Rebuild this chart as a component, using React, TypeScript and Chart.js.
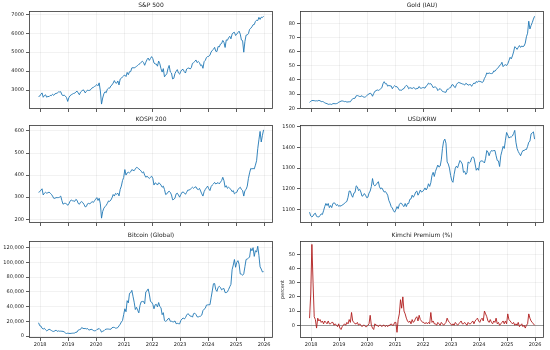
import React, { useEffect, useRef } from 'react';
import { Chart, registerables } from 'chart.js';

Chart.register(...registerables);

// ---------- data: two readings per month (mid, end), Dec 2017 .. Dec 2025 ----------
const startYear = 2017;
const startMonth = 12;
const yearTicks = [2018, 2019, 2020, 2021, 2022, 2023, 2024, 2025, 2026];

const sp500 = [
  2660, 2680,
  2780, 2850, 2620, 2710, 2750, 2620, 2670, 2650, 2720, 2705, 2780, 2720, 2800, 2820, 2840, 2900, 2900, 2915, 2750, 2710, 2730, 2680, 2600, 2400,
  2600, 2700, 2750, 2785, 2820, 2834, 2900, 2945, 2850, 2752, 2890, 2942, 3010, 2980, 2850, 2926, 3000, 2977, 2990, 3038, 3120, 3141, 3190, 3231,
  3290, 3226, 3380, 2954, 2260, 2580, 2800, 2912, 2860, 3044, 3100, 3100, 3220, 3271, 3370, 3500, 3380, 3363, 3480, 3270, 3580, 3622, 3700, 3756,
  3790, 3714, 3930, 3811, 3970, 3973, 4170, 4181, 4170, 4204, 4250, 4298, 4360, 4395, 4470, 4523, 4460, 4308, 4470, 4605, 4690, 4567, 4670, 4766,
  4660, 4430, 4380, 4374, 4260, 4530, 4390, 4132, 3950, 4132, 3700, 3785, 3860, 4130, 4300, 3955, 3900, 3586, 3620, 3872, 3990, 4080, 3900, 3840,
  3990, 4077, 4090, 3970, 3900, 4109, 4150, 4169, 4110, 4180, 4410, 4450, 4510, 4589, 4450, 4508, 4450, 4288, 4330, 4150, 4500, 4568, 4720, 4770,
  4780, 4846, 5010, 5096, 5150, 5254, 5050, 5036, 5300, 5278, 5430, 5460, 5620, 5522, 5250, 5648, 5630, 5762, 5840, 5705, 5950, 6032, 6050, 5882,
  5950, 6041, 6110, 5955, 5640, 5612, 5000, 5569, 5900, 5912, 5980, 6205, 6260, 6339, 6450, 6460, 6620, 6688, 6670, 6840, 6730, 6849, 6830, 6900,
];

const gold = [
  24.2, 24.9,
  25.5, 25.5, 25.4, 25.2, 25.3, 25.2, 25.6, 25.3, 24.7, 24.8, 24.5, 23.9, 23.5, 23.3, 22.8, 22.9, 22.9, 22.7, 23.3, 23.3, 23.2, 23.3, 23.5, 24.4,
  24.6, 25.1, 25.2, 25.0, 24.7, 24.8, 24.4, 24.5, 24.6, 24.6, 25.8, 26.8, 27.0, 27.1, 28.8, 29.0, 28.7, 28.3, 28.4, 28.9, 28.0, 27.8, 28.1, 28.9,
  29.6, 30.2, 30.6, 30.2, 28.5, 30.4, 32.0, 32.4, 33.0, 32.6, 33.1, 33.8, 34.5, 37.4, 38.8, 37.3, 37.4, 35.6, 36.2, 35.8, 35.8, 33.8, 35.2, 36.0,
  35.2, 35.3, 34.2, 32.8, 32.8, 32.7, 33.7, 33.9, 35.3, 36.2, 35.7, 33.8, 34.5, 34.4, 33.9, 34.6, 34.4, 33.4, 34.1, 34.0, 35.4, 34.2, 34.2, 34.6,
  34.6, 34.2, 35.7, 36.3, 37.8, 37.2, 37.4, 36.2, 34.6, 35.0, 35.0, 34.4, 32.5, 33.4, 33.9, 33.0, 31.9, 31.7, 31.4, 31.3, 33.4, 33.5, 34.3, 34.6,
  36.5, 36.7, 35.2, 34.6, 36.8, 37.8, 38.3, 37.9, 37.6, 37.2, 37.0, 36.4, 37.6, 37.2, 36.3, 36.7, 36.8, 35.5, 36.9, 37.9, 37.4, 38.9, 38.3, 39.3,
  38.9, 38.8, 38.2, 38.8, 41.1, 42.6, 45.0, 44.4, 45.0, 44.6, 44.5, 44.7, 46.4, 46.1, 47.2, 48.2, 48.8, 50.3, 50.8, 52.5, 49.4, 50.4, 50.8, 50.2,
  51.4, 53.6, 56.0, 54.9, 57.0, 59.8, 63.5, 62.8, 61.6, 63.0, 64.3, 63.0, 64.0, 63.5, 64.0, 66.0, 70.5, 73.0, 81.5, 76.0, 78.5, 80.5, 83.0, 85.0,
];

const kospi200 = [
  322, 325,
  332, 338, 310, 318, 322, 318, 320, 323, 318, 313, 305, 295, 295, 298, 298, 298, 300, 305, 285, 268, 272, 272, 270, 263,
  270, 282, 287, 284, 283, 281, 290, 286, 272, 268, 277, 280, 275, 267, 256, 258, 270, 272, 270, 275, 280, 276, 284, 291,
  298, 285, 295, 270, 205, 235, 250, 257, 263, 272, 283, 281, 287, 297, 312, 305, 317, 313, 318, 306, 335, 350, 375, 389,
  425, 400, 410, 413, 410, 415, 425, 422, 420, 428, 435, 433, 428, 424, 418, 410, 415, 400, 390, 395, 390, 385, 390, 395,
  385, 355, 365, 362, 355, 365, 362, 355, 345, 350, 335, 312, 315, 323, 327, 322, 310, 288, 290, 296, 315, 318, 310, 300,
  312, 322, 323, 320, 313, 322, 332, 332, 335, 340, 345, 340, 345, 347, 337, 334, 340, 328, 315, 305, 325, 335, 343, 350,
  338, 330, 348, 355, 360, 367, 360, 363, 366, 360, 368, 375, 390, 375, 345, 352, 340, 345, 340, 335, 325, 330, 315, 320,
  322, 335, 340, 345, 335, 330, 305, 330, 335, 350, 385, 410, 430, 428, 430, 428, 445, 465, 520, 560, 598, 550, 580, 605,
];

const usdKrw = [
  1088, 1070,
  1065, 1070, 1080, 1083, 1068, 1066, 1065, 1072, 1080, 1077, 1095, 1115, 1130, 1120, 1130, 1110, 1120, 1110, 1130, 1133, 1130, 1120, 1125, 1116,
  1120, 1117, 1123, 1125, 1132, 1136, 1140, 1160, 1190, 1189, 1170, 1160, 1180, 1183, 1215, 1210, 1192, 1198, 1185, 1165, 1168, 1178, 1170, 1158,
  1160, 1180, 1190, 1212, 1250, 1220, 1215, 1220, 1228, 1235, 1210, 1200, 1205, 1195, 1185, 1188, 1180, 1170, 1145, 1132, 1115, 1108, 1095, 1088,
  1100, 1115, 1105, 1125, 1132, 1130, 1120, 1115, 1130, 1115, 1130, 1130, 1150, 1152, 1170, 1160, 1170, 1185, 1190, 1170, 1180, 1195, 1185, 1188,
  1195, 1205, 1195, 1205, 1225, 1212, 1230, 1265, 1280, 1260, 1285, 1300, 1315, 1305, 1310, 1340, 1395, 1430, 1440, 1420, 1330, 1320, 1300, 1265,
  1240, 1232, 1270, 1300, 1310, 1302, 1320, 1337, 1330, 1320, 1280, 1285, 1270, 1278, 1330, 1325, 1330, 1349, 1355, 1350, 1320, 1290, 1300, 1290,
  1330, 1335, 1335, 1332, 1325, 1348, 1385, 1378, 1360, 1376, 1385, 1383, 1385, 1385, 1360, 1337, 1335, 1308, 1360, 1382, 1405, 1395, 1435, 1472,
  1460, 1445, 1450, 1450, 1455, 1467, 1482, 1425, 1395, 1380, 1370, 1360, 1375, 1385, 1385, 1390, 1390, 1405, 1425, 1430, 1465, 1470, 1475, 1440,
];

const bitcoin = [
  18000, 14000,
  13500, 10500, 9500, 10500, 8500, 7000, 8000, 9200, 8500, 7500, 6500, 6200, 7000, 8000, 6300, 7000, 6500, 6600, 6450, 6300, 5600, 4100, 3400, 3800,
  3600, 3450, 3600, 3800, 3900, 4100, 5100, 5300, 8000, 8600, 9000, 11500, 10500, 10000, 10300, 9600, 10200, 8300, 8300, 9200, 8700, 7500, 7100, 7200,
  8800, 9400, 10200, 8600, 5300, 6400, 7100, 8700, 9300, 9500, 9400, 9150, 9200, 11300, 11800, 11650, 10700, 10800, 11500, 13800, 16000, 19000, 21000, 29000,
  37000, 33000, 48000, 45000, 58000, 58800, 62000, 54000, 46000, 36000, 39000, 35000, 31500, 41500, 46500, 47000, 47000, 43800, 60000, 61300, 64000, 57000, 47000, 46000,
  43000, 37000, 42500, 43000, 39500, 45500, 40000, 38500, 29000, 31700, 21000, 19900, 21000, 23300, 24000, 20000, 20000, 19400, 19200, 20500, 16700, 17200, 16800, 16500,
  21000, 23100, 24500, 23100, 25000, 28400, 30300, 29300, 27000, 27200, 25600, 30500, 31000, 29200, 26100, 25900, 26600, 27000, 28500, 34500, 36500, 37700, 42000, 42300,
  42500, 42500, 52000, 61200, 71000, 71300, 63000, 60600, 66000, 67500, 66000, 62700, 64000, 64600, 59000, 59000, 60000, 63300, 67000, 70200, 90000, 96400, 104000, 93400,
  100000, 102400, 97500, 84300, 84000, 82500, 84500, 94200, 104000, 104600, 106000, 107100, 119000, 115800, 120000, 108200, 116000, 114000, 122000, 109500, 94000, 91000, 87000, 87500,
];

const kimchiPremium = [
  5, 22,
  57, 30, 6, 4, -2, 5, 3, 4, 2, 3, 1, 3, 2, 1, 3, 1, 1, 2, 2, 0, 1, 0, -1, 1,
  -2, -3, -1, 0, 1, 0, 2, 1, 4, 2, 9, 3, 2, 1, 1, 2, 0, 1, 0, -1, 0, 0, -1, -1,
  0, 1, 7, 0, -2, -3, 1, 0, 0, -1, 0, 0, -1, 0, 0, -1, 0, -1, 0, 0, 1, 0, 0, 2,
  2, -5, 4, 8, 18, 12, 20, 10, 8, 5, 3, 2, 3, 1, 4, 2, 3, 5, 6, 3, 7, 4, 3, 2,
  2, 1, 2, 1, 2, 1, 9, 2, 3, 1, 1, 0, 2, 1, 0, 2, 1, 0, 1, 2, 5, 3, 2, 1,
  0, 1, 0, 2, 1, 0, 1, 2, 3, 1, 1, 2, 1, 0, 2, 1, 1, 2, 3, 1, 3, 4, 5, 3,
  2, 4, 5, 3, 10, 8, 6, 3, 2, 4, 2, 1, 3, 2, 5, 1, 2, 0, 1, 2, 3, 1, 3, 1,
  8, 4, 3, 2, 1, 2, 0, 1, 0, 2, -1, 0, 1, -1, 0, -2, 0, 1, 8, 5, 3, 2, 1, 0,
];

const spTicks = [3000, 4000, 5000, 6000, 7000];
const goldTicks = [20, 30, 40, 50, 60, 70, 80];
const kospiTicks = [200, 300, 400, 500, 600];
const krwTicks = [1100, 1200, 1300, 1400, 1500];
const btcTicks = [0, 20000, 40000, 60000, 80000, 100000, 120000];
const kimchiTicks = [0, 10, 20, 30, 40, 50];

// ---------- helpers ----------
const halfMonthX = (i: number) => {
  const m = startMonth - 1 + Math.floor(i / 2);
  const within = i % 2 === 0 ? 0.3 : 0.8;
  return startYear + Math.floor(m / 12) + ((m % 12) + within) / 12;
};

const FONT = '"DejaVu Sans", "Liberation Sans", sans-serif';
const BLUE = '#1f77b4';
const RED = '#b01c1c';

type PanelDef = {
  title: string;
  values: number[];
  ticks: number[];
  min: number;
  max: number;
  comma?: boolean;
  color: string;
  ylabel?: string;
  zero?: boolean;
  showX: boolean;
  cell: { left: number; top: number; width: number; height: number };
  plot: { l: number; t: number; r: number; b: number };
};

const framePlugin = {
  id: 'frame',
  beforeDatasetsDraw(chart: any, _a: any, opts: any) {
    if (!opts.zero) return;
    const { ctx, chartArea } = chart;
    const y = Math.round(chart.scales.y.getPixelForValue(0)) + 0.5;
    ctx.save();
    ctx.strokeStyle = '#808080';
    ctx.lineWidth = 0.8;
    ctx.beginPath();
    ctx.moveTo(chartArea.left, y);
    ctx.lineTo(chartArea.right, y);
    ctx.stroke();
    ctx.restore();
  },
  afterDraw(chart: any, _a: any, opts: any) {
    const { ctx, chartArea } = chart;
    ctx.save();
    ctx.strokeStyle = '#333';
    ctx.lineWidth = 0.8;
    ctx.strokeRect(
      chartArea.left + 0.5,
      chartArea.top + 0.5,
      chartArea.right - chartArea.left - 1,
      chartArea.bottom - chartArea.top - 1
    );
    ctx.fillStyle = '#222';
    ctx.font = `6px ${FONT}`;
    ctx.textAlign = 'center';
    ctx.textBaseline = 'middle';
    ctx.fillText(opts.title, (chartArea.left + chartArea.right) / 2, chartArea.top - 5.5);
    if (opts.ylabel) {
      ctx.font = `5px ${FONT}`;
      ctx.translate(opts.ylabelX, (chartArea.top + chartArea.bottom) / 2);
      ctx.rotate(-Math.PI / 2);
      ctx.fillText(opts.ylabel, 0, 0);
    }
    ctx.restore();
  },
};

function Panel({ def }: { def: PanelDef }) {
  const ref = useRef<HTMLCanvasElement | null>(null);
  useEffect(() => {
    if (!ref.current) return;
    const { cell, plot } = def;
    const gridCfg = {
      color: 'rgba(0,0,0,0.09)',
      lineWidth: 0.6,
      tickColor: '#333',
      tickWidth: 0.8,
      tickLength: 3,
      drawTicks: true,
    };
    const chart = new Chart(ref.current, {
      type: 'line',
      data: {
        datasets: [
          {
            data: def.values.map((v, i) => ({ x: halfMonthX(i), y: v })),
            borderColor: def.color,
            borderWidth: 0.9,
            pointRadius: 0,
            tension: 0,
            fill: false,
          },
        ],
      },
      options: {
        animation: false,
        responsive: false,
        events: [],
        layout: {
          padding: {
            left: 0,
            top: plot.t - cell.top,
            right: cell.left + cell.width - plot.r,
            bottom: 0,
          },
        },
        plugins: {
          legend: { display: false },
          tooltip: { enabled: false },
          title: { display: false },
          frame: {
            title: def.title,
            ylabel: def.ylabel,
            ylabelX: 283 - cell.left,
            zero: def.zero,
          },
        } as any,
        scales: {
          x: {
            type: 'linear',
            min: 2017.6,
            max: 2026.32,
            afterBuildTicks: (s: any) => {
              s.ticks = yearTicks.map((v) => ({ value: v }));
            },
            afterFit: (s: any) => {
              s.height = cell.top + cell.height - plot.b;
            },
            ticks: {
              display: def.showX,
              autoSkip: false,
              maxRotation: 0,
              padding: 1,
              color: '#222',
              font: { family: FONT, size: 5 },
              callback: (v: any) => String(v),
            },
            grid: gridCfg,
            border: { display: false },
          },
          y: {
            type: 'linear',
            min: def.min,
            max: def.max,
            afterBuildTicks: (s: any) => {
              s.ticks = def.ticks.map((v) => ({ value: v }));
            },
            afterFit: (s: any) => {
              s.width = plot.l - cell.left;
            },
            ticks: {
              autoSkip: false,
              padding: 2,
              color: '#222',
              font: { family: FONT, size: 5 },
              callback: (v: any) =>
                def.comma ? Number(v).toLocaleString('en-US') : String(v),
            },
            grid: gridCfg,
            border: { display: false },
          },
        },
      } as any,
      plugins: [framePlugin as any],
    });
    return () => chart.destroy();
  }, [def]);
  const { cell } = def;
  return (
    <canvas
      ref={ref}
      width={cell.width}
      height={cell.height}
      style={{
        position: 'absolute',
        left: cell.left,
        top: cell.top,
        width: cell.width,
        height: cell.height,
      }}
    />
  );
}

const panels: PanelDef[] = [
  {
    title: 'S&P 500', values: sp500, ticks: spTicks, min: 2000, max: 7175, color: BLUE, showX: false,
    cell: { left: 0, top: 0, width: 275, height: 116 }, plot: { l: 29, t: 11, r: 273, b: 109 },
  },
  {
    title: 'Gold (IAU)', values: gold, ticks: goldTicks, min: 19.5, max: 88.7, color: BLUE, showX: false,
    cell: { left: 275, top: 0, width: 275, height: 116 }, plot: { l: 300, t: 11, r: 544, b: 109 },
  },
  {
    title: 'KOSPI 200', values: kospi200, ticks: kospiTicks, min: 183, max: 627, color: BLUE, showX: false,
    cell: { left: 0, top: 116, width: 275, height: 116 }, plot: { l: 29, t: 125, r: 273, b: 223 },
  },
  {
    title: 'USD/KRW', values: usdKrw, ticks: krwTicks, min: 1036, max: 1508, color: BLUE, showX: false,
    cell: { left: 275, top: 116, width: 275, height: 116 }, plot: { l: 300, t: 125, r: 544, b: 223 },
  },
  {
    title: 'Bitcoin (Global)', values: bitcoin, ticks: btcTicks, min: -2700, max: 129100, comma: true, color: BLUE, showX: true,
    cell: { left: 0, top: 232, width: 275, height: 118 }, plot: { l: 29, t: 241, r: 273, b: 338 },
  },
  {
    title: 'Kimchi Premium (%)', values: kimchiPremium, ticks: kimchiTicks, min: -9, max: 59.4, color: RED, showX: true,
    ylabel: 'percent', zero: true,
    cell: { left: 275, top: 232, width: 275, height: 118 }, plot: { l: 300, t: 241, r: 544, b: 338 },
  },
];

export default function App() {
  return (
    <div
      style={{
        position: 'fixed',
        left: 0,
        top: 0,
        width: 550,
        height: 350,
        background: '#ffffff',
        overflow: 'hidden',
      }}
    >
      {panels.map((p) => (
        <Panel key={p.title} def={p} />
      ))}
    </div>
  );
}
